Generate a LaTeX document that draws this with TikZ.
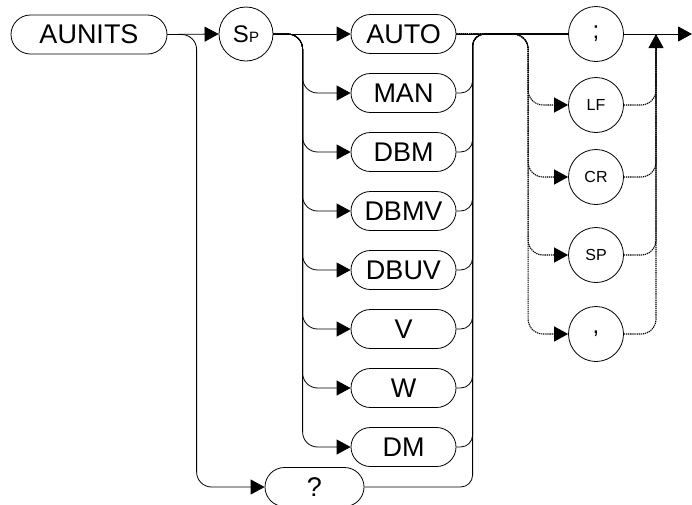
\documentclass[tikz,border=0pt]{standalone}
\usepackage{fontspec}
\setmainfont{Liberation Sans}
\usetikzlibrary{arrows.meta,shapes.misc}

\tikzset{
  kwbox/.style={draw, rounded rectangle, minimum height=39pt, inner sep=0pt,
    line width=0.8pt, font=\fontsize{27}{27}\selectfont},
  kwcirc/.style={draw, circle, minimum size=55pt, inner sep=0pt,
    line width=0.8pt, font=\fontsize{16}{16}\selectfont},
  rail/.style={line width=0.8pt, rounded corners=15pt},
  optrail/.style={rail, line width=1.1pt, dash pattern=on 1.3pt off 0.8pt},
  tip/.style={-{Triangle[length=14pt,width=15pt]}},
}

\begin{document}
\begin{tikzpicture}[x=1pt,y=-1pt]
    \useasboundingbox (0,0) rectangle (692,504);

    % Command keyword and separator
    \node[kwbox, minimum width=156pt] (aunits) at (89,34.5) {AUNITS};
    \node[kwcirc, minimum size=54pt] (sp) at (246,34)
        {\fontsize{24}{24}\selectfont S\fontsize{15}{15}\selectfont P};

    % Unit keywords
    \foreach \name/\txt/\y in {auto/AUTO/34, man/MAN/93, dbm/DBM/152,
        dbmv/DBMV/211, dbuv/DBUV/270, v/V/329, w/W/388, dm/DM/447}
        \node[kwbox, minimum width=105pt] (\name) at (403.5,\y) {\txt};
    \node[kwbox, minimum width=99pt] (query) at (314.5,487) {?};

    % Terminators
    \node[kwcirc] (semi) at (596,34) {\fontsize{24}{24}\selectfont ;};
    \node[kwcirc] (lf) at (596,105) {LF};
    \node[kwcirc] (cr) at (596,177) {CR};
    \node[kwcirc] (spc) at (596,255) {SP};
    \node[kwcirc] (comma) at (596,334) {\fontsize{24}{24}\selectfont ,};
    \coordinate (join) at (656,34);
    \coordinate (exit) at (692,34);

    % Rails into the keywords
    \draw[rail, tip] (aunits.east) -- (sp.west);
    \draw[rail, tip] (aunits.east) -| ([xshift=-68pt]query.west) -- (query.west);
    \draw[rail, tip] (sp.east) -- (auto.west);
    \foreach \name in {man,dbm,dbmv,dbuv,v,w,dm}
        \draw[rail, tip] (sp.east) -| ([xshift=-48pt]\name.west) -- (\name.west);

    % Rails out to the terminator
    \draw[rail] (auto.east) -- (semi.west);
    \foreach \name in {man,dbm,dbmv,dbuv,v,w,dm,query}
        \draw[rail, rounded corners=12pt] (\name.east) -| ([xshift=-95.5pt]semi.west) -- (semi.west);
    \draw[rail, tip] (semi.east) -- (exit);

    % Optional terminators
    \foreach \name in {lf,cr,spc,comma} {
        \draw[optrail, tip] (auto.east) -| ([xshift=-40pt]\name.west) -- (\name.west);
        \draw[optrail] (\name.east) -| (join);
    }
    \draw[rail, tip] ([yshift=-16pt]join) -- (join);
\end{tikzpicture}
\end{document}
